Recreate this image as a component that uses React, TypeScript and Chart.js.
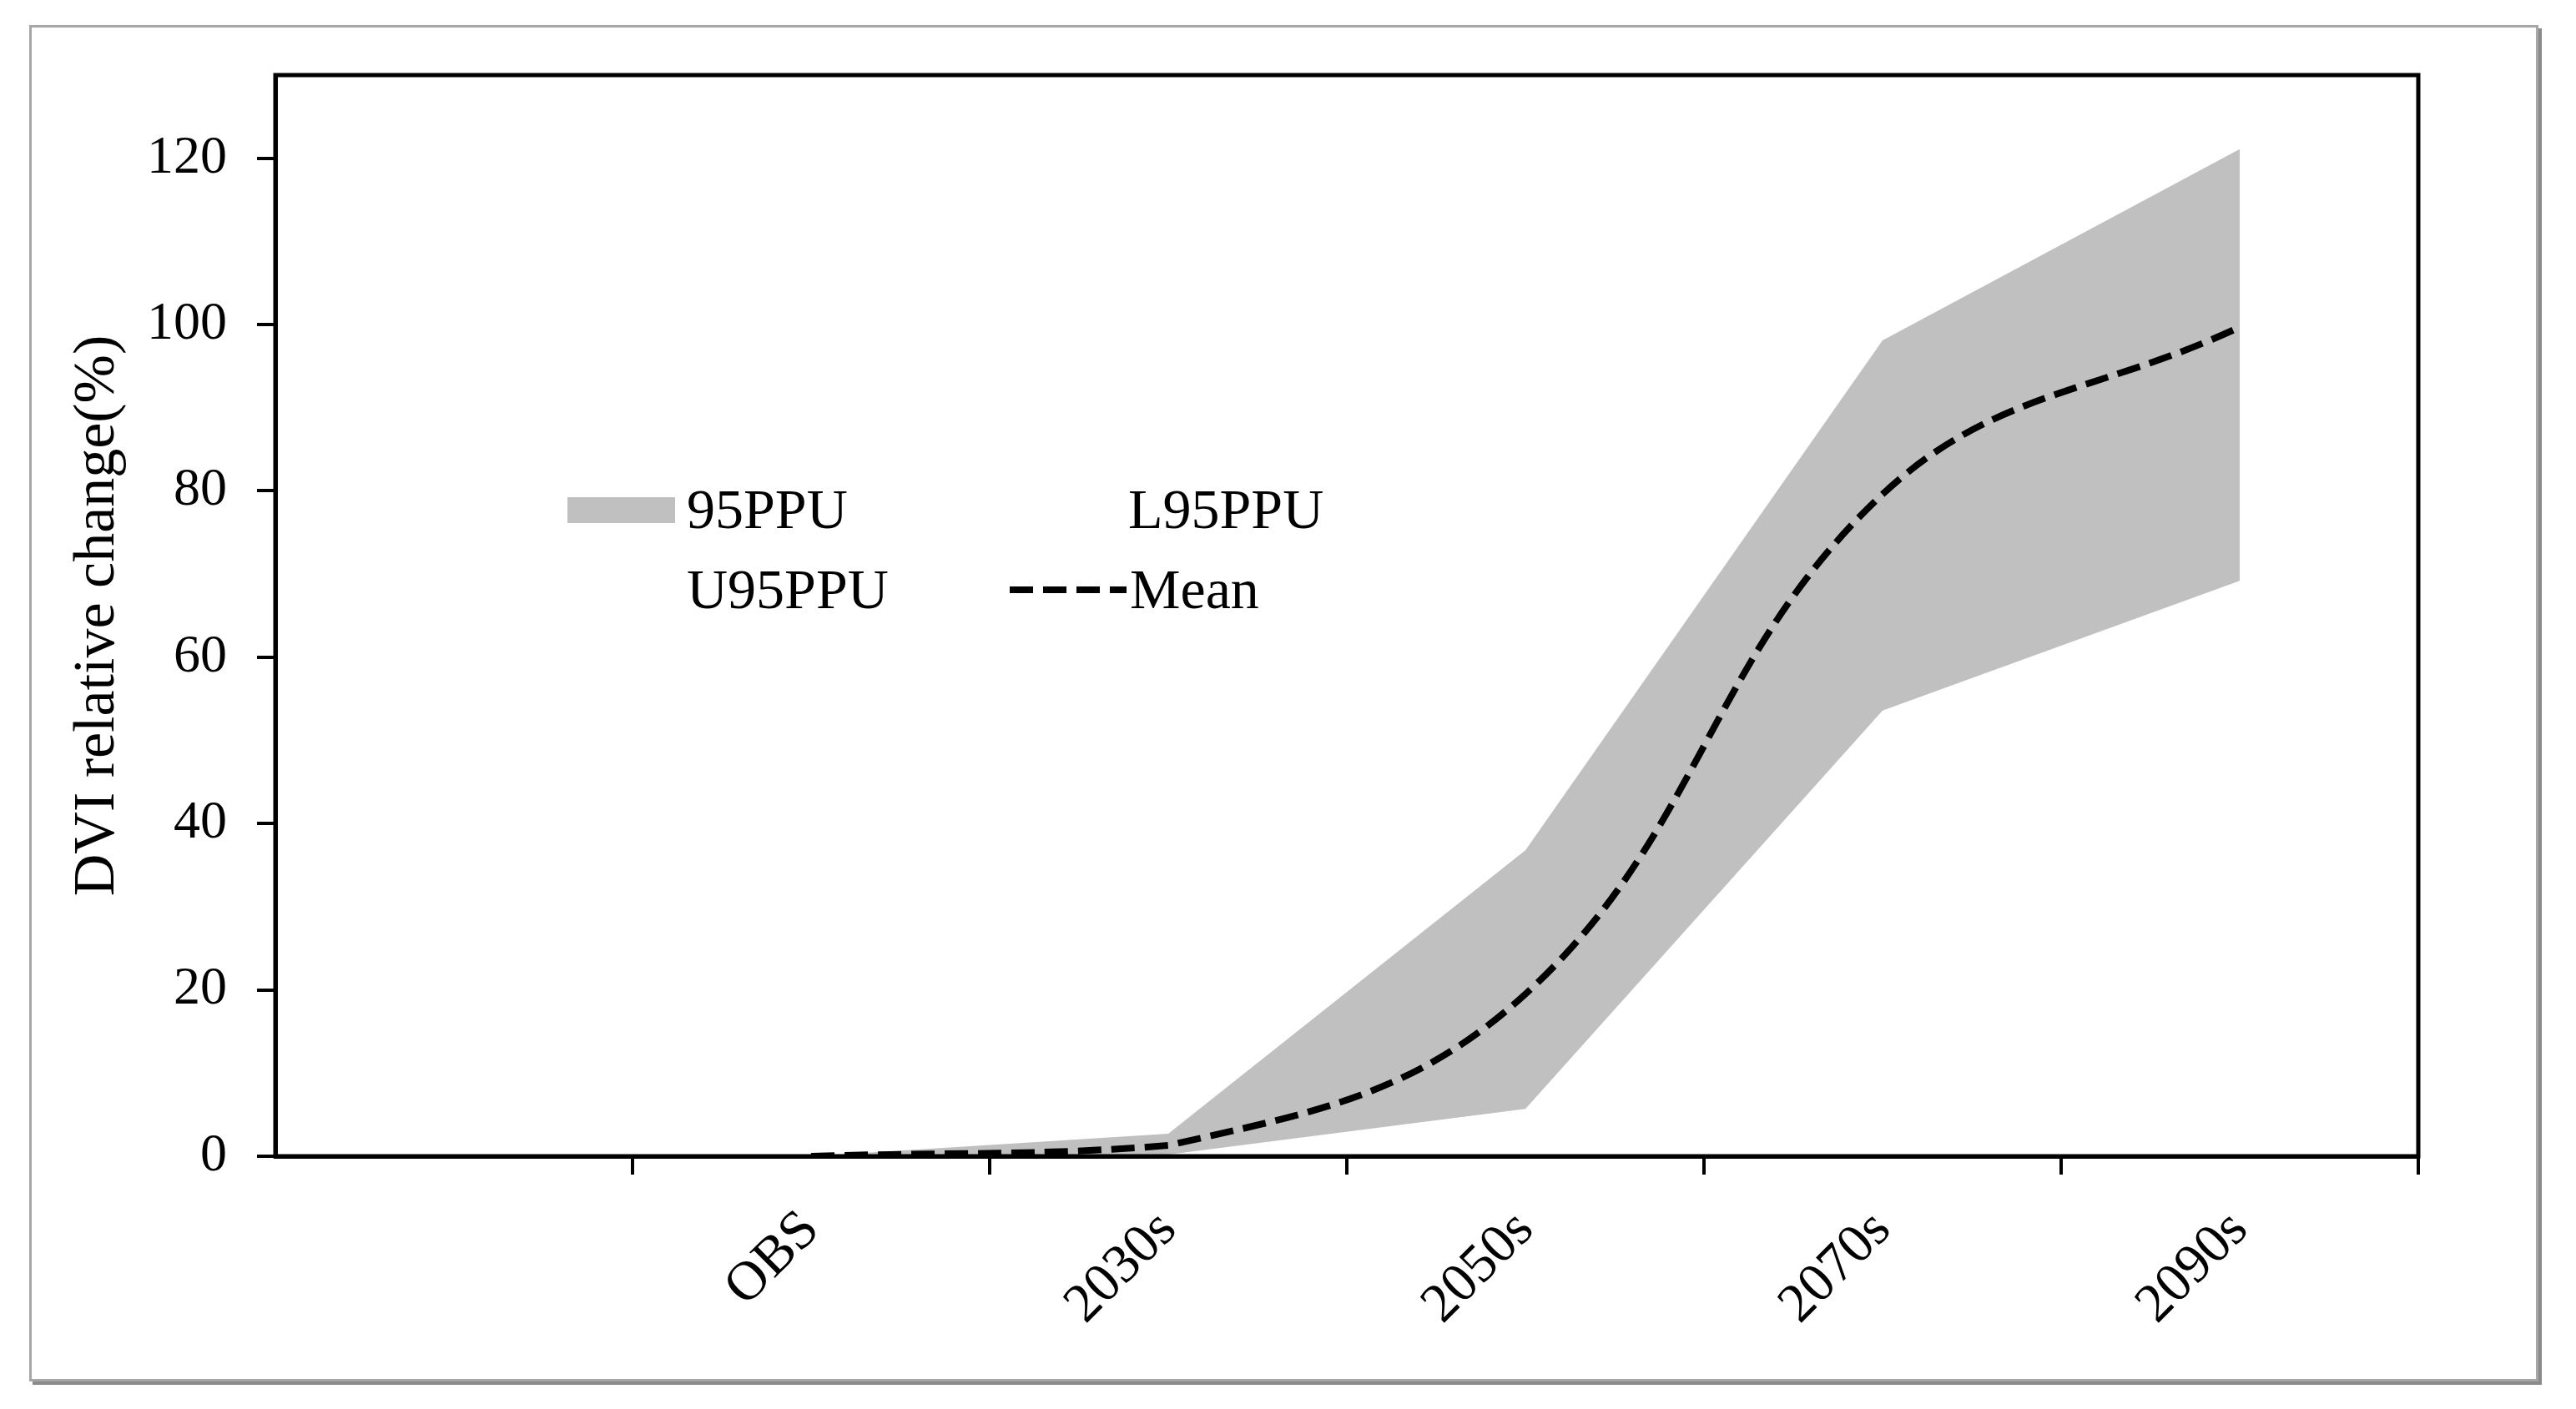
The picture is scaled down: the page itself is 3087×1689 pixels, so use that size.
import React, { useEffect, useRef } from "react";
import { Chart, registerables } from "chart.js";

Chart.register(...registerables);

const categories = ["", "OBS", "2030s", "2050s", "2070s", "2090s"];
const lower95 = [null, 0, 0.2, 5.7, 53.6, 69.2];
const upper95 = [null, 0, 2.7, 36.8, 98.1, 121.1];
const meanValues = [null, 0, 1.3, 19.5, 79.6, 99.7];
const yTicks = [0, 20, 40, 60, 80, 100, 120];

const FONT = "'Liberation Serif', 'Times New Roman', serif";
const BAND = "#c0c0c0";
const DASH = [28, 12];

const W = 3087;
const H = 1689;

const framePlugin = {
  id: "frame",
  beforeDraw(chart: any) {
    const ctx = chart.ctx;
    ctx.save();
    ctx.fillStyle = "#ffffff";
    ctx.fillRect(0, 0, W, H);
    ctx.fillStyle = "#8a8a8a";
    ctx.fillRect(3040, 34, 6, 1626);
    ctx.fillRect(39, 1654, 3007, 6);
    ctx.strokeStyle = "#a6a6a6";
    ctx.lineWidth = 3;
    ctx.strokeRect(36.5, 31.5, 3004, 1623);
    ctx.restore();
  },
  afterDraw(chart: any) {
    const { ctx, chartArea } = chart;
    ctx.save();
    ctx.strokeStyle = "#000";
    ctx.lineWidth = 5;
    ctx.strokeRect(chartArea.left, chartArea.top, chartArea.right - chartArea.left, chartArea.bottom - chartArea.top);

    const ds = chart.data.datasets;
    const byLabel: any = {};
    ds.forEach((d: any) => (byLabel[d.label] = d));
    ctx.font = `68px ${FONT}`;
    ctx.textBaseline = "alphabetic";
    ctx.textAlign = "left";
    ctx.fillStyle = byLabel["95PPU"].backgroundColor;
    ctx.fillRect(680, 596, 129, 31);
    ctx.fillStyle = "#000";
    ctx.fillText("95PPU", 823, 633);
    ctx.fillText("L95PPU", 1352, 633);
    ctx.fillText("U95PPU", 823, 729);
    const m = byLabel["Mean"];
    ctx.strokeStyle = m.borderColor;
    ctx.lineWidth = m.borderWidth;
    ctx.setLineDash(m.borderDash);
    ctx.lineCap = "butt";
    ctx.beginPath();
    ctx.moveTo(1210, 707);
    ctx.lineTo(1350, 707);
    ctx.stroke();
    ctx.setLineDash([]);
    ctx.fillText("Mean", 1354, 729);
    ctx.restore();
  },
};

export default function App() {
  const ref = useRef<HTMLCanvasElement | null>(null);
  useEffect(() => {
    document.body.style.margin = "0";
    const canvas = ref.current!;
    const chart = new Chart(canvas, {
      type: "line",
      data: {
        labels: categories,
        datasets: [
          {
            label: "Mean",
            data: meanValues,
            borderColor: "#000",
            borderWidth: 8,
            borderDash: DASH,
            borderCapStyle: "butt",
            pointRadius: 0,
            tension: 0.4,
            fill: false,
            order: 0,
          },
          {
            label: "L95PPU",
            data: lower95,
            borderColor: "rgba(0,0,0,0)",
            borderWidth: 0,
            pointRadius: 0,
            fill: false,
            order: 1,
          },
          {
            label: "U95PPU",
            data: upper95,
            borderColor: "rgba(0,0,0,0)",
            borderWidth: 0,
            pointRadius: 0,
            fill: false,
            order: 2,
          },
          {
            label: "95PPU",
            data: upper95,
            borderColor: "rgba(0,0,0,0)",
            backgroundColor: BAND,
            borderWidth: 0,
            pointRadius: 0,
            fill: { target: 1 },
            order: 3,
          },
        ],
      },
      options: {
        responsive: false,
        animation: false,
        devicePixelRatio: 1,
        layout: { padding: { left: 0, top: 90, right: W - 2898, bottom: 0 } },
        plugins: {
          legend: { display: false },
          tooltip: { enabled: false },
        },
        scales: {
          x: {
            type: "category",
            offset: true,
            grid: {
              offset: true,
              drawOnChartArea: false,
              drawTicks: true,
              tickLength: 22,
              lineWidth: 4,
              color: (c: any) => (c.index === 0 ? "rgba(0,0,0,0)" : "#000"),
            },
            border: { display: true, color: "#000", width: 5 },
            ticks: {
              minRotation: 45,
              maxRotation: 45,
              autoSkip: false,
              padding: 28,
              color: "#000",
              font: { family: FONT, size: 66 },
            },
            afterFit: (s: any) => {
              s.height = H - 1386;
            },
          },
          y: {
            min: 0,
            max: 130,
            grid: {
              drawOnChartArea: false,
              drawTicks: true,
              tickLength: 22,
              lineWidth: 4,
              color: "#000",
            },
            border: { display: true, color: "#000", width: 5 },
            afterBuildTicks: (s: any) => {
              s.ticks = yTicks.map((v) => ({ value: v }));
            },
            ticks: {
              padding: 36,
              color: "#000",
              font: { family: FONT, size: 64 },
            },
            title: {
              display: true,
              text: "DVI relative change(%)",
              color: "#000",
              font: { family: FONT, size: 70 },
              padding: { top: 76, bottom: 0 },
            },
            afterFit: (s: any) => {
              s.width = 330;
            },
          },
        },
      },
      plugins: [framePlugin],
    } as any);
    return () => chart.destroy();
  }, []);
  return (
    <div style={{ width: W, height: H, background: "#fff" }}>
      <canvas ref={ref} width={W} height={H} style={{ display: "block", width: W, height: H }} />
    </div>
  );
}
